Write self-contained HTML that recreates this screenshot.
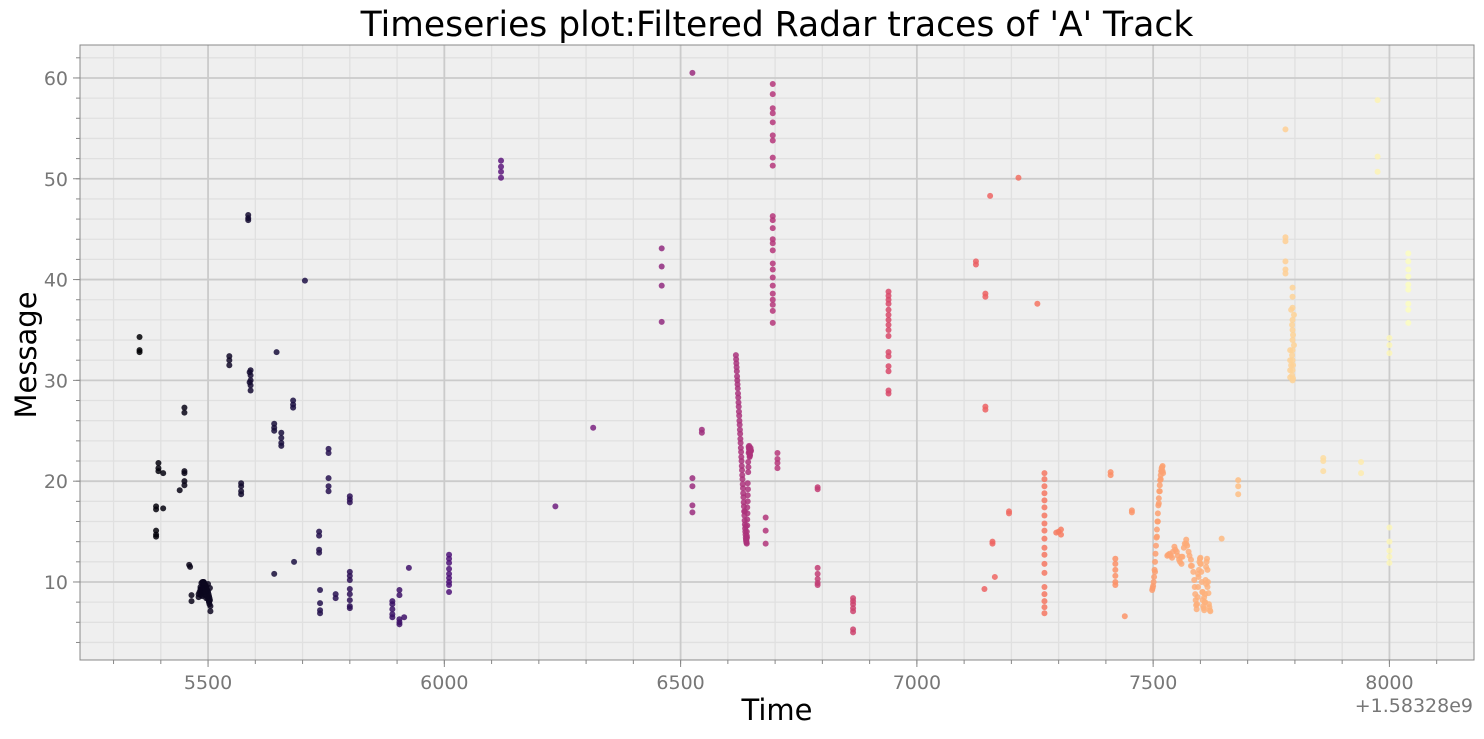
<!DOCTYPE html>
<html><head><meta charset="utf-8"><style>
body{margin:0;background:#fff;}
svg text{font-family:"DejaVu Sans","Liberation Sans",sans-serif;}
</style></head><body>
<svg id="chart" width="1484" height="734" xmlns="http://www.w3.org/2000/svg">
<rect x="80" y="45" width="1394" height="615" fill="#efefef"/>
<g id="grid"></g>
<g id="ticks"></g>
<g id="points"></g>
<rect x="80" y="45" width="1394" height="615" fill="none" stroke="#888" stroke-width="1"/>
<text x="777" y="36" font-size="34.5" text-anchor="middle" fill="#000">Timeseries plot:Filtered Radar traces of 'A' Track</text>
<text x="777" y="720" font-size="29" text-anchor="middle" fill="#000">Time</text>
<text x="0" y="0" font-size="29" text-anchor="middle" fill="#000" transform="translate(36,355) rotate(-90)">Message</text>
<text x="1473" y="712" font-size="19" text-anchor="end" fill="#777">+1.58328e9</text>
</svg>
<script>
const xTicks=[5500,6000,6500,7000,7500,8000];
const yTicks=[10,20,30,40,50,60];
const times=[5355,5355,5355,5390,5390,5390,5390,5390,5395,5395,5395,5405,5405,5440,5450,5450,5450,5450,5450,5450,5460,5462,5465,5465,
5480,5482,5484,5486,5488,5490,5492,5494,5496,5498,5500,5502,5504,5480,5484,5488,5492,5496,5500,5504,5484,5490,5496,5502,5486,5494,5500,5505,5503,5505,
5545,5545,5545,5570,5570,5570,5570,5585,5585,5585,5590,5590,5590,5590,5590,5588,5588,5640,5640,5640,5640,5645,5655,5655,5655,5655,5680,5680,5680,5682,5705,
5735,5735,5735,5735,5737,5737,5737,5737,5755,5755,5755,5755,5755,5770,5770,5800,5800,5800,5800,5800,5800,5800,5800,5800,5800,5800,
5890,5890,5890,5890,5890,5905,5905,5905,5905,5905,5915,5925,6010,6010,6010,6010,6010,6010,6010,6010,6010,6120,6120,6120,6120,6235,6315,
6460,6460,6460,6460,6525,6525,6525,6525,6525,6545,6545,
6617,6618,6619,6620,6621,6622,6623,6624,6625,6626,6627,6628,6629,6630,6631,6632,6633,6634,6635,6636,6637,6638,6639,6640,6640,6641,6641,6642,6642,6643,6643,6644,6644,6645,6645,6646,6647,6648,6649,6636,6638,
6680,6680,6680,6695,6695,6695,6695,6695,6695,6695,6695,6695,6695,6695,6695,6695,6695,6695,6695,6695,6695,6695,6695,6695,6695,6695,6695,
6705,6705,6705,6705,6790,6790,6790,6790,6790,6790,6790,6865,6865,6865,6865,6865,6865,6865,
6940,6940,6940,6940,6940,6940,6940,6940,6940,6940,6940,6940,6940,6940,6940,6940,
7125,7125,7145,7145,7145,7145,7143,7155,7160,7160,7165,7195,7195,7215,7255,
7270,7270,7270,7270,7270,7270,7270,7270,7270,7270,7270,7270,7270,7270,7270,7270,7270,7270,7270,7295,7300,7305,7305,
7410,7410,7420,7420,7420,7420,7420,7420,7440,7455,7455,
7498,7500,7502,7504,7506,7508,7510,7512,7514,7516,7518,7520,7504,7508,7512,7516,
7530,7535,7540,7545,7550,7555,7560,7565,7570,7575,7580,7585,7588,7590,7592,7594,7596,7598,7600,7602,7604,7606,7608,7610,7612,7614,7616,7618,7620,7560,7570,7580,7612,7608,
7645,7680,7680,7680,7780,7780,7780,7780,7780,7780,7790,7790,7790,7790,7795,7795,7795,7795,7795,7795,7795,7795,7795,7795,
7860,7860,7860,7940,7940,7975,7975,7975,8000,8000,8000,8000,8000,8000,8000,8000,
8040,8040,8040,8040,8040,8040,8040,8040,8040];
const messages=[34.3,33.0,32.8,17.5,17.2,15.1,14.7,14.5,21.8,21.3,21.0,20.8,17.3,19.1,27.3,26.8,21.0,20.8,20.0,19.6,11.7,11.5,8.7,8.1,
8.5,9.0,9.5,9.9,10.0,10.0,9.9,9.7,9.5,9.2,9.0,8.6,8.2,8.8,9.3,8.6,9.0,8.4,9.8,9.4,9.2,9.7,9.0,8.0,8.9,8.7,8.3,7.6,7.8,7.1,
32.4,32.0,31.5,19.8,19.5,19.0,18.7,46.4,46.1,45.9,31.0,30.5,30.0,29.5,29.0,30.8,29.8,25.7,25.3,25.0,10.8,32.8,24.8,24.3,23.8,23.5,28.0,27.6,27.3,12.0,39.9,
15.0,14.6,13.2,12.9,9.2,7.9,7.2,6.9,23.2,22.8,20.3,19.5,19.0,8.8,8.4,18.5,18.2,17.9,11.0,10.6,10.2,9.3,8.8,8.2,7.6,7.4,
8.1,7.8,7.3,6.8,6.5,9.2,8.7,6.3,6.0,5.8,6.5,11.4,12.7,12.3,11.9,11.3,10.8,10.4,10.0,9.7,9.0,51.8,51.2,50.7,50.1,17.5,25.3,
43.1,41.3,39.4,35.8,60.5,20.3,19.5,17.6,16.9,25.1,24.8,
32.5,31.7,30.9,30.0,29.2,28.3,27.4,26.5,25.6,24.7,23.8,22.9,22.0,21.1,20.2,19.3,18.4,17.5,16.6,15.7,15.0,14.4,14.0,13.8,15.0,16.2,17.4,18.6,19.8,20.9,21.9,22.8,23.4,23.5,22.9,22.4,22.6,23.3,23.0,17.0,15.5,
16.4,15.1,13.8,59.4,58.4,57.0,56.5,55.6,54.3,53.8,52.1,51.3,46.3,45.9,45.1,44.0,43.6,42.9,41.6,41.0,40.2,39.4,38.6,38.0,37.5,36.9,35.7,
22.8,22.2,21.8,21.3,19.4,19.2,11.4,10.8,10.3,9.9,9.7,8.4,8.1,7.8,7.4,7.1,5.3,5.0,
38.8,38.4,38.0,37.6,37.0,36.5,36.0,35.5,35.0,34.4,32.8,32.4,31.4,30.9,29.0,28.7,
41.8,41.5,38.6,38.3,27.4,27.1,9.3,48.3,14.0,13.8,10.5,17.0,16.8,50.1,37.6,
20.8,20.2,19.5,18.8,18.1,17.4,16.6,15.8,15.1,14.3,13.4,12.7,11.8,10.9,9.5,8.8,8.1,7.5,6.9,14.9,15.0,15.2,14.7,
20.9,20.6,12.3,11.8,11.2,10.6,10.0,9.7,6.6,17.1,16.9,
9.2,9.6,10.5,12.0,13.6,15.2,16.8,18.3,19.6,20.6,21.3,21.0,11.0,14.5,17.8,20.2,
12.6,12.8,12.4,13.5,13.0,12.2,11.8,13.4,14.2,13.0,12.2,11.0,9.5,8.2,7.3,8.5,10.5,12.0,12.4,11.0,9.0,7.6,7.2,8.8,11.5,12.3,10.0,7.8,7.2,12.5,13.8,11.6,9.8,8.5,
14.3,20.1,19.5,18.7,54.9,44.2,43.8,41.8,41.0,40.6,30.3,33.0,32.0,31.0,39.2,38.3,37.2,36.0,35.0,34.0,33.0,32.0,31.0,30.0,
22.3,22.0,21.0,21.9,20.8,57.8,52.2,50.7,34.2,33.5,32.7,15.4,14.0,13.1,12.5,11.9,
42.6,41.8,41.0,40.3,39.5,39.0,37.6,37.0,35.7];
// extra points in dense traces
const denseTimes=[6617.5,6618.5,6619.5,6620.5,6621.5,6622.5,6623.5,6624.5,6625.5,6626.5,6627.5,6628.5,6629.5,6630.5,6631.5,6632.5,6633.5,6634.5,6635.5,6636.5,6637.5,6638.5,6639.5,6640.5,6641.5,6642.5,6643.5,6644.5,6645.5,6646.5,6647.5,6648.5,6639,6640,6641,6642,
5485,5487,5489,5491,5493,5495,5497,5499,5501,5503,5490,5494,5498,5502,
7499,7501,7503,7505,7507,7509,7511,7513,7515,7517,7519,7521,7510,7514,7518,7520,
7532,7537,7542,7547,7552,7557,7562,7567,7572,7577,7582,7587,7589,7591,7593,7595,7597,7599,7601,7603,7605,7607,7609,7611,7613,7615,7617,7619,7621,7595,7600,7605,7610,7615,
7792,7794,7796,7798,7796,7794,7792,7798,7796,7794];
const denseMessages=[32.1,31.3,30.4,29.6,28.7,27.8,26.9,26.0,25.1,24.2,23.3,22.4,21.5,20.6,19.7,18.8,17.9,17.0,16.1,15.3,14.7,14.2,13.9,14.4,16.8,19.2,21.4,23.2,23.0,22.5,22.9,23.1,14.1,14.6,15.6,18.0,
8.7,9.2,9.7,10.0,9.8,9.6,9.3,9.1,8.8,8.4,9.4,9.0,8.6,8.1,
9.4,10.0,11.2,12.8,14.4,16.0,17.6,19.0,20.1,21.0,21.4,20.8,16.0,19.0,21.0,21.5,
12.7,12.6,13.0,13.2,12.6,12.0,12.5,13.8,13.6,12.6,11.6,10.2,8.8,7.7,7.8,9.5,11.2,12.3,11.8,10.0,8.2,7.4,8.0,10.2,12.0,11.2,8.9,7.5,7.1,10.8,11.8,9.0,8.0,9.5,
37.0,35.5,34.5,33.5,31.5,30.5,31.5,36.5,30.2,32.5];

const NS="http://www.w3.org/2000/svg";
const L=80,R=1474,T=45,B=660;
const xMin=5229,xMax=8179,yMin=2.26,yMax=63.27;
const xs=v=>L+(v-xMin)/(xMax-xMin)*(R-L);
const ys=v=>B-(v-yMin)/(yMax-yMin)*(B-T);
const grid=document.getElementById('grid'),ticks=document.getElementById('ticks'),pts=document.getElementById('points');
function line(g,x1,y1,x2,y2,c,w){const l=document.createElementNS(NS,'line');l.setAttribute('x1',x1);l.setAttribute('y1',y1);l.setAttribute('x2',x2);l.setAttribute('y2',y2);l.setAttribute('stroke',c);l.setAttribute('stroke-width',w);g.appendChild(l);return l;}
for(let v=5300;v<=8100;v+=100){const l=line(grid,xs(v),T,xs(v),B,'#e0e0e0',1.3);


line(ticks,xs(v),B,xs(v),B+4,'#888',1);}
for(let v=4;v<=62;v+=2){const l=line(grid,L,ys(v),R,ys(v),'#e0e0e0',1.3);


line(ticks,L-4,ys(v),L,ys(v),'#888',1);}
xTicks.forEach(v=>{const l=line(grid,xs(v),T,xs(v),B,'#cbcbcb',1.8);


line(ticks,xs(v),B,xs(v),B+7,'#888',1);
const t=document.createElementNS(NS,'text');t.setAttribute('x',xs(v));t.setAttribute('y',B+29);t.setAttribute('font-size','19');t.setAttribute('fill','#777');t.setAttribute('text-anchor','middle');t.textContent=v;


ticks.appendChild(t);});
yTicks.forEach(v=>{const l=line(grid,L,ys(v),R,ys(v),'#cbcbcb',1.8);


line(ticks,L-7,ys(v),L,ys(v),'#888',1);
const t=document.createElementNS(NS,'text');t.setAttribute('x',L-12);t.setAttribute('y',ys(v)+7);t.setAttribute('font-size','19');t.setAttribute('fill','#777');t.setAttribute('text-anchor','end');t.textContent=v;


ticks.appendChild(t);});
const stops=[[0,0,4],[28,16,68],[79,18,123],[129,37,129],[181,54,122],[229,80,100],[251,135,97],[254,194,135],[252,253,191]];
function magma(f){f=Math.max(0,Math.min(1,f))*8;const i=Math.min(7,Math.floor(f)),r=f-i,a=stops[i],b=stops[i+1];
return 'rgb('+a.map((c,k)=>Math.round(c+(b[k]-c)*r)).join(',')+')';}
const allT=times.concat(denseTimes),allM=messages.concat(denseMessages);
const tMin=Math.min(...allT),tMax=Math.max(...allT);
allT.forEach((t,i)=>{const c=document.createElementNS(NS,'circle');
c.setAttribute('cx',xs(t));c.setAttribute('cy',ys(allM[i]));c.setAttribute('r',3);
c.setAttribute('fill',magma((t-tMin)/(tMax-tMin)));c.setAttribute('fill-opacity','0.85');


pts.appendChild(c);});
</script>
</body></html>
